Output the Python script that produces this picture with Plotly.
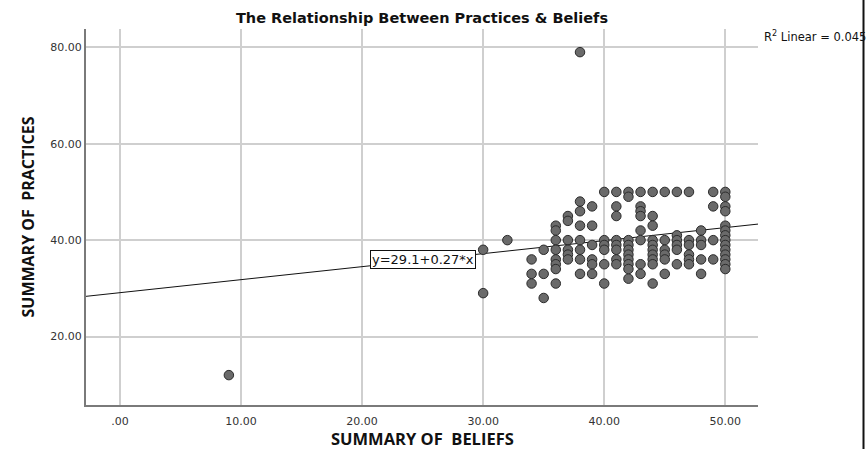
import plotly.graph_objects as go

# Survey scores: one entry per respondent
beliefs = (
    [9]
    + [30, 30]
    + [32]
    + [34, 34, 34]
    + [35, 35, 35]
    + [36] * 8
    + [37] * 6
    + [38] * 8
    + [39] * 6
    + [40] * 6
    + [41] * 8
    + [42] * 10
    + [43] * 8
    + [44] * 10
    + [45] * 6
    + [46] * 6
    + [47] * 6
    + [48] * 5
    + [49] * 4
    + [50] * 14
)
practices = (
    [12]
    + [38, 29]
    + [40]
    + [36, 33, 31]
    + [38, 33, 28]
    + [43, 42, 40, 38, 36, 35, 34, 31]
    + [45, 44, 40, 38, 37, 36]
    + [79, 48, 46, 43, 40, 38, 36, 33]
    + [47, 43, 39, 36, 35, 33]
    + [50, 40, 39, 38, 35, 31]
    + [50, 47, 45, 40, 39, 38, 36, 35]
    + [50, 49, 40, 39, 38, 37, 36, 35, 34, 32]
    + [50, 47, 46, 45, 42, 40, 35, 33]
    + [50, 45, 43, 40, 39, 38, 37, 36, 35, 31]
    + [50, 40, 38, 37, 36, 33]
    + [50, 41, 40, 39, 38, 35]
    + [50, 40, 39, 37, 36, 35]
    + [42, 40, 39, 36, 33]
    + [50, 47, 40, 36]
    + [50, 49, 47, 46, 43, 42, 41, 40, 39, 38, 37, 36, 35, 34]
)

# Fitted linear model
intercept = 29.1
slope = 0.27
r_squared = 0.045

x_ticks = [0, 10, 20, 30, 40, 50]
x_tick_labels = [".00", "10.00", "20.00", "30.00", "40.00", "50.00"]
y_ticks = [20, 40, 60, 80]
y_tick_labels = ["20.00", "40.00", "60.00", "80.00"]

x_range = [-2.8, 52.7]
y_range = [5.8, 83.8]

fit_x = x_range
fit_y = [intercept + slope * v for v in fit_x]

fig = go.Figure()

fig.add_trace(go.Scatter(
    x=fit_x, y=fit_y, mode="lines",
    line=dict(color="#111111", width=1),
    hoverinfo="skip", showlegend=False,
))

fig.add_trace(go.Scatter(
    x=beliefs, y=practices, mode="markers",
    marker=dict(size=9.5, color="#6a6a6a",
                line=dict(color="#2b2b2b", width=1)),
    showlegend=False,
))

# Equation label placed on the fit line
eq_x = 25
fig.add_annotation(
    x=eq_x, y=intercept + slope * eq_x + 0.2, xref="x", yref="y",
    text=f"y={intercept}+{slope}*x", showarrow=False,
    font=dict(family="DejaVu Sans", size=13, color="#111111"),
    bgcolor="white", bordercolor="#111111", borderwidth=1, borderpad=1,
)

fig.add_annotation(
    x=1.006, y=0.979, xref="paper", yref="paper",
    xanchor="left", yanchor="middle",
    text=f"R<sup>2</sup> Linear = {r_squared}", showarrow=False,
    font=dict(family="DejaVu Sans", size=11.5, color="#111111"),
)

# X-axis title, set just under the tick labels
fig.add_annotation(
    x=0.5, y=-0.088, xref="paper", yref="paper",
    xanchor="center", yanchor="middle",
    text="<b>SUMMARY OF  BELIEFS</b>", showarrow=False,
    font=dict(family="Open Sans", size=16.5, color="#111111"),
)

# Frame line along the right edge of the page
fig.add_shape(
    type="line", xref="paper", yref="paper",
    x0=1.157, x1=1.157, y0=-0.2, y1=1.2,
    line=dict(color="#111111", width=2),
)

fig.update_layout(
    width=866, height=449,
    margin=dict(l=86, r=108, t=29, b=44, autoexpand=False),
    paper_bgcolor="white", plot_bgcolor="white",
    title=dict(
        text="<b>The Relationship Between Practices &amp; Beliefs</b>",
        x=0.5, xref="paper", y=0.961, yanchor="middle",
        font=dict(family="DejaVu Sans", size=14.5, color="#111111"),
    ),
    xaxis=dict(
        range=x_range, tickvals=x_ticks, ticktext=x_tick_labels,
        showgrid=True, gridcolor="#cfcfcf", gridwidth=1.5,
        zeroline=False, showline=True, linecolor="#7a7a7a", linewidth=2,
        ticks="", automargin=False, ticklabelstandoff=5,
        tickfont=dict(family="DejaVu Sans", size=11, color="#333333"),
    ),
    yaxis=dict(
        range=y_range, tickvals=y_ticks, ticktext=y_tick_labels,
        showgrid=True, gridcolor="#cfcfcf", gridwidth=1.5,
        zeroline=False, showline=True, linecolor="#7a7a7a", linewidth=2,
        ticks="", automargin=False,
        tickfont=dict(family="DejaVu Sans", size=11, color="#333333"),
        title=dict(text="<b>SUMMARY OF  PRACTICES</b>", standoff=12,
                   font=dict(family="Open Sans", size=16, color="#111111")),
    ),
)

fig.write_html("out.html")
